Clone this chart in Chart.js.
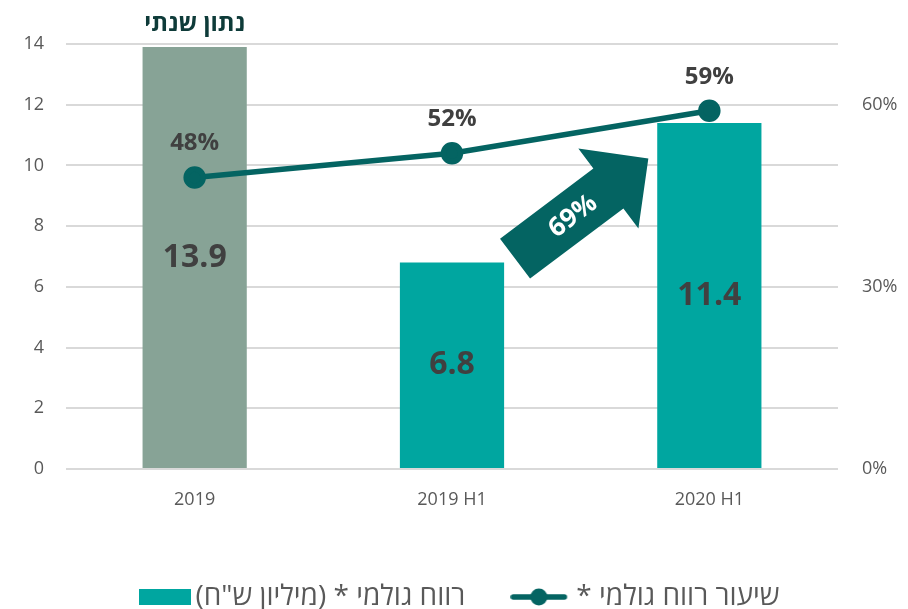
<!DOCTYPE html>
<html>
<head>
<meta charset="utf-8">
<script src="https://cdn.jsdelivr.net/npm/chart.js@4.4.0/dist/chart.umd.min.js"></script>
<style>
  html, body { margin: 0; padding: 0; background: #fff; }
  #wrap { width: 908px; height: 609px; }
</style>
</head>
<body>
<div id="wrap"><canvas id="chart"></canvas></div>
<script>
// data
const categories = ['2019', '2019 H1', '2020 H1'];
const grossProfit = [13.9, 6.8, 11.4];      // million NIS (bars)
const grossMargin = [0.48, 0.52, 0.59];     // rate (line)
const leftTicks = [0, 2, 4, 6, 8, 10, 12, 14];
const rightTicks = [0, 0.3, 0.6];
const seriesNames = ['רווח גולמי * (מיליון ש"ח)', 'שיעור רווח גולמי *'];
const annualNote = 'נתון שנתי';
const growthLabel = '69%';

const FONT = '"Open Sans", "DejaVu Sans", sans-serif';
const GRAY_BAR = '#87a396';
const TEAL = '#00a6a0';
const DARK = '#046462';

// right-to-left embedding so hebrew legend text keeps its order
const rtl = s => '\u202B' + s + '\u202C';

// little pictures for the legend
function legendImg(kind) {
    const c = document.createElement('canvas');
    const g = c.getContext('2d');
    if (kind === 'bar') {
        c.width = 52; c.height = 16;
        g.fillStyle = TEAL;
        g.fillRect(0, 0, 52, 16);
    } else {
        // content sits on the left part, rest is transparent
        c.width = 71; c.height = 18;
        g.strokeStyle = DARK;
        g.lineWidth = 5.5;
        g.lineCap = 'round';
        g.beginPath(); g.moveTo(3, 9); g.lineTo(54, 9); g.stroke();
        g.fillStyle = DARK;
        g.beginPath(); g.arc(28.5, 9, 8.5, 0, Math.PI * 2); g.fill();
    }
    return c;
}

// labels, title over first bar and the growth arrow
const extras = {
    id: 'extras',
    afterLayout(chart) {
        // nudge legend a bit right like the original
        chart.legend.left += 10;
        chart.legend.right += 10;
    },
    afterDatasetsDraw(chart) {
        const ctx = chart.ctx;
        const xs = chart.scales.x, ys = chart.scales.y;
        ctx.save();

        // bar values
        const bars = chart.getDatasetMeta(0).data;
        ctx.fillStyle = '#404040';
        ctx.font = 'bold 32px ' + FONT;
        ctx.textAlign = 'center';
        ctx.textBaseline = 'middle';
        bars.forEach((b, i) => {
            ctx.fillText(grossProfit[i].toFixed(1), b.x, (b.y + b.base) / 2);
        });

        // line values
        const pts = chart.getDatasetMeta(1).data;
        ctx.font = 'bold 24px ' + FONT;
        pts.forEach((p, i) => {
            ctx.fillText(Math.round(grossMargin[i] * 100) + '%', p.x, p.y - 34);
        });

        // title above the annual bar
        ctx.fillStyle = '#0e3b39';
        ctx.font = 'bold 24px ' + FONT;
        ctx.fillText(rtl(annualNote), bars[0].x, 24);

        // arrow between H1 2019 and H1 2020
        const T = { x: xs.getPixelForValue(1.245), y: ys.getPixelForValue(6.93) };
        const P = { x: xs.getPixelForValue(1.763), y: ys.getPixelForValue(10.23) };
        const len = Math.hypot(P.x - T.x, P.y - T.y);
        const u = { x: (P.x - T.x) / len, y: (P.y - T.y) / len };
        const n = { x: -u.y, y: u.x };
        const headLen = 50, shaftW = 25, headW = 50;
        const H = { x: P.x - u.x * headLen, y: P.y - u.y * headLen };
        const pt = (base, k) => [base.x + n.x * k, base.y + n.y * k];
        const poly = [pt(T, shaftW), pt(H, shaftW), pt(H, headW), [P.x, P.y],
                      pt(H, -headW), pt(H, -shaftW), pt(T, -shaftW)];
        ctx.fillStyle = DARK;
        ctx.beginPath();
        poly.forEach((q, i) => i ? ctx.lineTo(q[0], q[1]) : ctx.moveTo(q[0], q[1]));
        ctx.closePath();
        ctx.fill();

        const tc = { x: T.x + u.x * len * 0.43, y: T.y + u.y * len * 0.43 };
        ctx.translate(tc.x, tc.y);
        ctx.rotate(Math.atan2(u.y, u.x));
        ctx.fillStyle = '#ffffff';
        ctx.font = 'bold 26px ' + FONT;
        ctx.fillText(growthLabel, 0, 1);
        ctx.restore();
    }
};

const ctx = document.getElementById('chart');
new Chart(ctx, {
    type: 'bar',
    data: {
        labels: categories,
        datasets: [{
            type: 'bar',
            label: seriesNames[0],
            data: grossProfit,
            backgroundColor: [GRAY_BAR, TEAL, TEAL],
            yAxisID: 'y',
            categoryPercentage: 1,
            barPercentage: 0.405,
            order: 1
        }, {
            type: 'line',
            label: seriesNames[1],
            data: grossMargin,
            borderColor: DARK,
            backgroundColor: DARK,
            borderWidth: 5.5,
            pointRadius: 8.5,
            pointHoverRadius: 8.5,
            yAxisID: 'y1',
            order: 0
        }]
    },
    options: {
        responsive: true,
        maintainAspectRatio: false,
        animation: false,
        layout: { padding: { top: 44, bottom: -12 } },
        scales: {
            x: {
                grid: { display: false },
                border: { display: false },
                ticks: { color: '#595959', font: { size: 18, family: FONT }, padding: 12 },
                afterFit(axis) { axis.height = 50; }
            },
            y: {
                position: 'left',
                min: 0, max: 14,
                afterBuildTicks(axis) { axis.ticks = leftTicks.map(v => ({ value: v })); },
                grid: { color: '#d9d9d9', lineWidth: 2, drawTicks: false },
                border: { display: false },
                ticks: { color: '#595959', font: { size: 18, family: FONT }, padding: 22 },
                afterFit(axis) { axis.width = 66; }
            },
            y1: {
                position: 'right',
                min: 0, max: 0.7,
                afterBuildTicks(axis) { axis.ticks = rightTicks.map(v => ({ value: v })); },
                grid: { display: false, drawTicks: false },
                border: { display: false },
                ticks: {
                    color: '#595959', font: { size: 18, family: FONT }, padding: 24,
                    callback: v => Math.round(v * 100) + '%'
                },
                afterFit(axis) { axis.width = 70; }
            }
        },
        plugins: {
            tooltip: { enabled: false },
            legend: {
                position: 'bottom',
                labels: {
                    usePointStyle: true,
                    pointStyleWidth: 33,
                    color: '#595959',
                    font: { size: 28, family: FONT },
                    padding: 64,
                    generateLabels() {
                        return [
                            { text: rtl(seriesNames[0]), pointStyle: legendImg('bar'), fillStyle: TEAL,
                              strokeStyle: TEAL, lineWidth: 0, datasetIndex: 0, hidden: false, fontColor: '#595959' },
                            { text: rtl(seriesNames[1]), pointStyle: legendImg('line'), fillStyle: DARK,
                              strokeStyle: DARK, lineWidth: 0, datasetIndex: 1, hidden: false, fontColor: '#595959' }
                        ];
                    }
                }
            }
        }
    },
    plugins: [extras]
});
</script>
</body>
</html>
